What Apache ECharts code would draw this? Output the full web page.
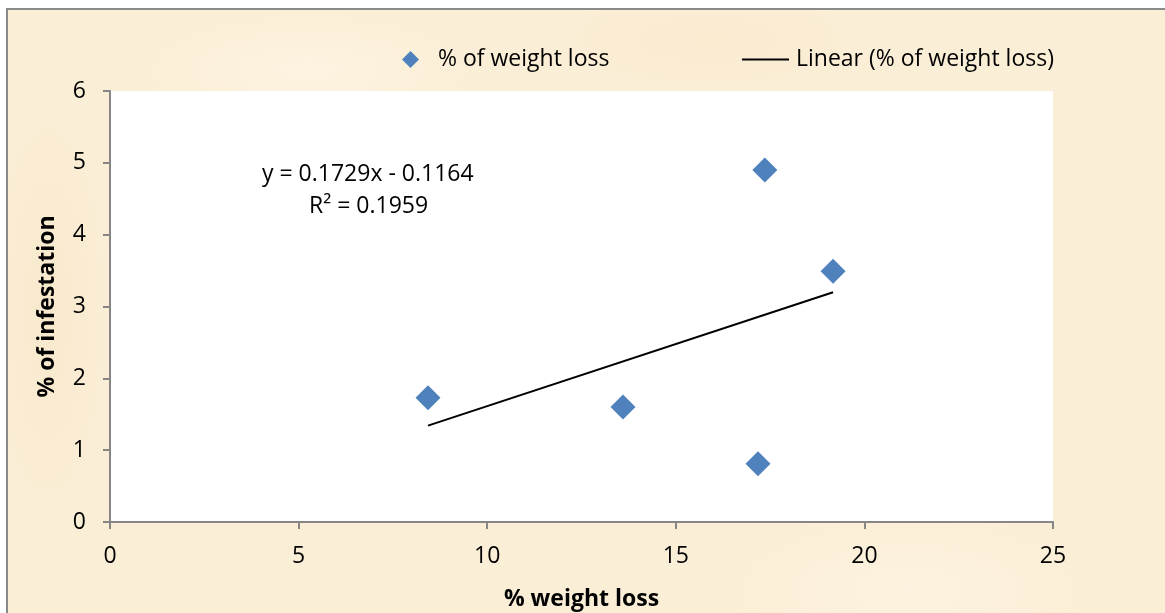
<!DOCTYPE html>
<html>
<head>
<meta charset="utf-8">
<script src="https://cdn.jsdelivr.net/npm/echarts@6/dist/echarts.min.js"></script>
<style>
  html, body { margin: 0; padding: 0; background: #ffffff; }
  #frame {
    position: absolute; left: 6px; top: 8px; width: 1200px; height: 700px;
    border: 2px solid #8a8a8a; box-sizing: border-box;
    background-color: #fbeed6;
    background-image:
      radial-gradient(ellipse 180px 60px at 300px 60px, rgba(255,247,232,0.6), rgba(255,247,232,0)),
      radial-gradient(ellipse 200px 80px at 900px 580px, rgba(255,247,232,0.5), rgba(255,247,232,0)),
      radial-gradient(ellipse 60px 200px at 40px 300px, rgba(245,228,195,0.5), rgba(245,228,195,0)),
      radial-gradient(ellipse 150px 50px at 700px 30px, rgba(246,230,198,0.4), rgba(246,230,198,0));
  }
  #chart { position: absolute; left: 0; top: 0; width: 1165px; height: 613px; }
</style>
</head>
<body>
<div id="frame"></div>
<div id="chart"></div>
<script>
// Observations: % weight loss (x) vs % of infestation (y)
const weightLoss = [8.43, 13.6, 17.18, 17.36, 19.17];
const infestation = [1.73, 1.60, 0.81, 4.90, 3.49];

// Fitted linear trend as reported on the chart
const slope = 0.1729;
const intercept = -0.1164;
const rSquared = 0.1959;

const xTicks = { min: 0, max: 25, interval: 5 };
const yTicks = { min: 0, max: 6, interval: 1 };

const seriesName = '% of weight loss';
const trendName = 'Linear (% of weight loss)';

const points = weightLoss.map((x, i) => [x, infestation[i]]);
const xLo = Math.min(...weightLoss), xHi = Math.max(...weightLoss);
const trend = [[xLo, slope * xLo + intercept], [xHi, slope * xHi + intercept]];

const font = '"Open Sans", sans-serif';
const fs = 23;
const chart = echarts.init(document.getElementById('chart'), null, { renderer: 'canvas' });

chart.setOption({
  backgroundColor: 'transparent',
  animation: false,
  textStyle: { fontFamily: font },
  grid: {
    left: 110, right: 112, top: 91, bottom: 91,
    outerBoundsMode: 'none', containLabel: false,
    show: true, backgroundColor: '#ffffff', borderWidth: 0
  },
  legend: [
    {
      data: [{ name: seriesName, icon: 'diamond' }],
      left: 397, top: 43, itemWidth: 17, itemHeight: 17,
      textStyle: { fontSize: fs, color: '#000', fontFamily: font, padding: [0, 0, 0, 14] }
    },
    {
      data: [{ name: trendName, icon: 'rect' }],
      left: 737, top: 43, itemWidth: 47, itemHeight: 2, itemStyle: { color: '#000' },
      textStyle: { fontSize: fs, color: '#000', fontFamily: font, padding: [0, 0, 0, 2] }
    }
  ],
  xAxis: {
    type: 'value', min: xTicks.min, max: xTicks.max, interval: xTicks.interval,
    name: '% weight loss', nameLocation: 'middle', nameGap: 66,
    nameTextStyle: { fontSize: fs, fontWeight: 'bold', color: '#000', fontFamily: font },
    axisLine: { show: true, lineStyle: { color: '#868686', width: 2 } },
    axisTick: { show: true, length: 7, lineStyle: { color: '#868686', width: 2 } },
    axisLabel: { fontSize: fs, color: '#000', margin: 23, fontFamily: font },
    splitLine: { show: false }
  },
  yAxis: {
    type: 'value', min: yTicks.min, max: yTicks.max, interval: yTicks.interval,
    name: '% of infestation', nameLocation: 'middle', nameGap: 51, nameRotate: 90,
    nameTextStyle: { fontSize: fs, fontWeight: 'bold', color: '#000', fontFamily: font },
    axisLine: { show: true, lineStyle: { color: '#868686', width: 2 } },
    axisTick: { show: true, length: 7, lineStyle: { color: '#868686', width: 2 } },
    axisLabel: { fontSize: fs, color: '#000', margin: 24, fontFamily: font },
    splitLine: { show: false }
  },
  series: [
    {
      name: seriesName, type: 'scatter', data: points,
      symbol: 'diamond', symbolSize: 25,
      itemStyle: { color: '#4f81bd', opacity: 1 }
    },
    {
      name: trendName, type: 'line', data: trend,
      symbol: 'none', lineStyle: { color: '#000', width: 2 }, itemStyle: { color: '#000' }
    }
  ],
  graphic: [
    {
      type: 'text', left: 262, top: 163,
      style: { text: 'y = ' + slope.toFixed(4) + 'x - ' + Math.abs(intercept).toFixed(4), font: fs + 'px ' + font, fill: '#000' }
    },
    {
      type: 'text', left: 309, top: 195,
      style: { text: 'R² = ' + rSquared.toFixed(4), font: fs + 'px ' + font, fill: '#000' }
    }
  ]
});
</script>
</body>
</html>
